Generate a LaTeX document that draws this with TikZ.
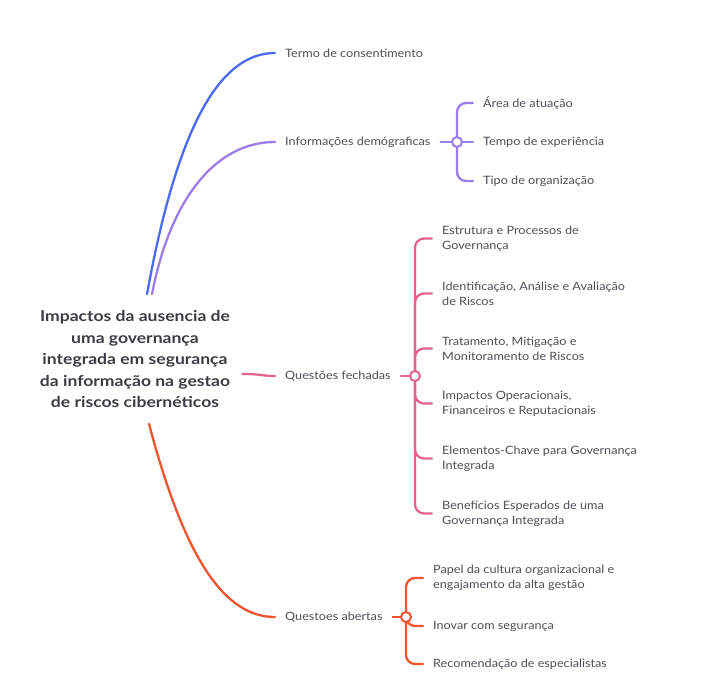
\documentclass[tikz,border=0pt]{standalone}
\usepackage{fontspec}
\setmainfont{Lato}[FakeStretch=1.1]
\newfontfamily\rootfont{Lato}[FakeStretch=1.17]

\definecolor{blu}{HTML}{4B6BF5}
\definecolor{prp}{HTML}{9B7CE9}
\definecolor{pnk}{HTML}{E3628F}
\definecolor{org}{HTML}{F0542F}
\definecolor{txt}{HTML}{4D4E58}
\definecolor{dark}{HTML}{3A3D46}

\tikzset{
  leaf/.style={anchor=west,inner xsep=10pt,inner ysep=0pt,align=left,text=txt,
    font=\fontsize{11.5}{15}\selectfont},
  junc/.style={circle,draw,fill=white,line width=2pt,minimum size=10pt,inner sep=0pt},
  wire/.style={line width=2.3pt,line cap=round,rounded corners=9pt}
}

\begin{document}
\begin{tikzpicture}[x=1pt,y=-1pt]
  \useasboundingbox (0,0) rectangle (711,699);

  \node[align=center,text=dark,inner sep=0pt,
    font=\rootfont\fontsize{15}{21.5}\selectfont\bfseries] (root) at (135,359)
    {Impactos da ausencia de\\uma governança\\integrada em segurança\\da informação na gestao\\de riscos cibernéticos};

  \begin{scope}[every node/.style={leaf}]
    \node (termo) at (275,53)  {Termo de consentimento};
    \node (info)  at (275,142) {Informações demógraficas};
    \node (fech)  at (275,376) {Questões fechadas};
    \node (abert) at (275,617) {Questoes abertas};

    \node (i1) at (473,103) {Área de atuação};
    \node (i2) at (473,142) {Tempo de experiência};
    \node (i3) at (473,181) {Tipo de organização};

    \node (f1) at (432,238.5) {Estrutura e Processos de\\Governança};
    \node (f2) at (432,293.5) {Identificação, Análise e Avaliação\\de Riscos};
    \node (f3) at (432,348.5) {Tratamento, Mitigação e\\Monitoramento de Riscos};
    \node (f4) at (432,403.5) {Impactos Operacionais,\\Financeiros e Reputacionais};
    \node (f5) at (432,458.5) {Elementos-Chave para Governança\\Integrada};
    \node (f6) at (432,513.5) {Benefícios Esperados de uma\\Governança Integrada};

    \node (a1) at (423,578) {Papel da cultura organizacional e\\engajamento da alta gestão};
    \node (a2) at (423,626) {Inovar com segurança};
    \node (a3) at (423,664) {Recomendação de especialistas};
  \end{scope}

  \coordinate (ji) at (457,142);
  \coordinate (jf) at (415,376);
  \coordinate (ja) at (406,617);

  % main branches
  \draw[wire,blu] ([xshift=12pt,yshift=16pt]root.north) .. controls (175,140) and (215,53) .. (termo.west);
  \draw[wire,prp] ([xshift=17pt,yshift=16pt]root.north) .. controls (170,200) and (215,142) .. (info.west);
  \draw[wire,pnk] ([xshift=12pt,yshift=-15pt]root.east) .. controls (262,374) and (262,376) .. (fech.west);
  \draw[wire,org] ([xshift=14pt,yshift=-16pt]root.south) .. controls (185,560) and (225,617) .. (abert.west);

  % sub branches
  \begin{scope}[every path/.style={wire}]
    \draw[prp] (info.east) -- (ji);
    \draw[prp] (ji) -- (i2.west);
    \foreach \c in {i1,i3}
      \draw[prp] (ji) |- (\c.west);

    \draw[pnk] (fech.east) -- (jf);
    \foreach \c in {f1,f2,f3,f4,f5,f6}
      \draw[pnk] (jf) |- (\c.west);

    \draw[org] (abert.east) -- (ja);
    \foreach \c in {a1,a2,a3}
      \draw[org] (ja) |- (\c.west);
  \end{scope}

  \node[junc,draw=prp] at (ji) {};
  \node[junc,draw=pnk] at (jf) {};
  \node[junc,draw=org] at (ja) {};

\end{tikzpicture}
\end{document}
